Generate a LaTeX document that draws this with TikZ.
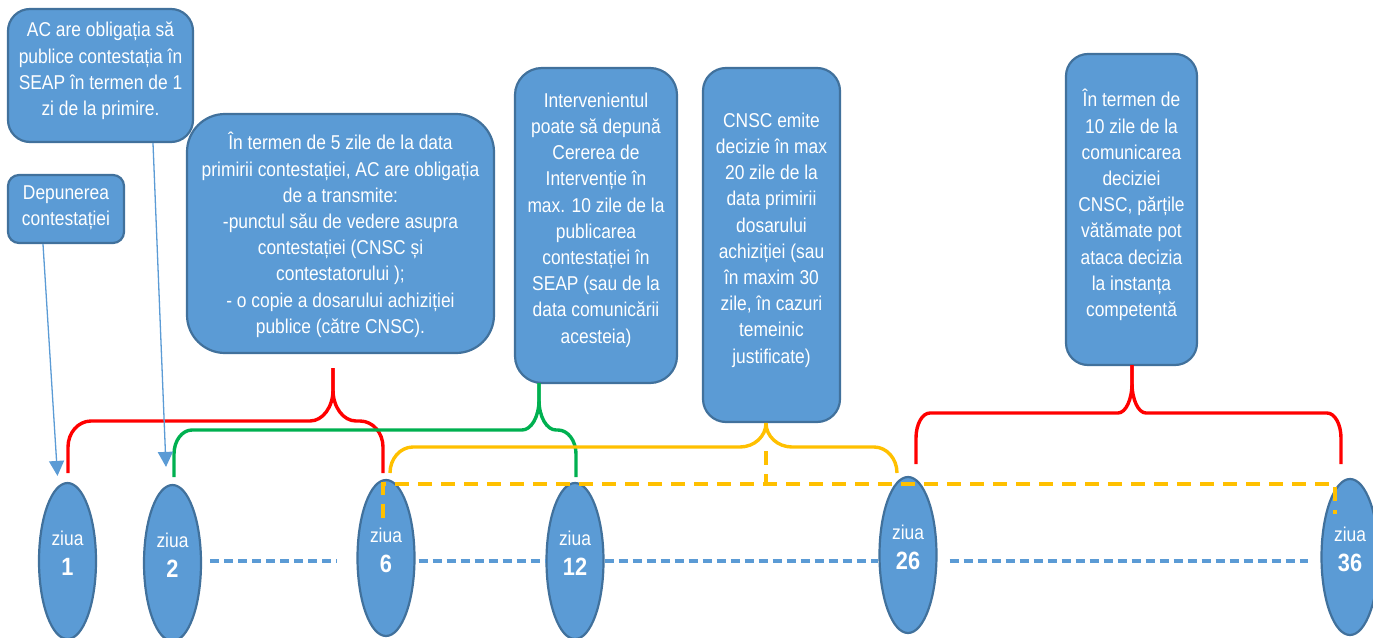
\documentclass[tikz,border=0pt]{standalone}
\usepackage{fontspec}
\setmainfont{Liberation Sans}[FakeStretch=0.87]
\usetikzlibrary{shapes.geometric,arrows.meta}
\definecolor{boxfill}{HTML}{5B9BD5}
\definecolor{boxline}{HTML}{41719C}
\definecolor{bred}{HTML}{FF0000}
\definecolor{bgreen}{HTML}{00B050}
\definecolor{byellow}{HTML}{FFC000}
\newcommand\setbr[4]{\def\brox{#1}\def\broy{#2}\def\brtx{#3}\def\brty{#4}}
\newcommand\bracedraw[7]{%
\pgfmathsetmacro\bLa{#6+\broy}\pgfmathsetmacro\bLb{#6+0.448*\broy}%
\pgfmathsetmacro\bLc{#2+0.448*\brox}\pgfmathsetmacro\bLd{#2+\brox}%
\pgfmathsetmacro\bTa{#4-\brtx}\pgfmathsetmacro\bTb{#4-0.448*\brtx}%
\pgfmathsetmacro\bTc{#6-0.448*\brty}\pgfmathsetmacro\bTd{#6-\brty}%
\pgfmathsetmacro\bTe{#4+0.448*\brtx}\pgfmathsetmacro\bTf{#4+\brtx}%
\pgfmathsetmacro\bRa{#3-\brox}\pgfmathsetmacro\bRb{#3-0.448*\brox}%
\draw[bracestyle,#1] (#2,#5) -- (#2,\bLa) .. controls (#2,\bLb) and (\bLc,#6) .. (\bLd,#6) -- (\bTa,#6) .. controls (\bTb,#6) and (#4,\bTc) .. (#4,\bTd) -- (#4,#7);
\draw[bracestyle,#1] (#4,#7) -- (#4,\bTd) .. controls (#4,\bTc) and (\bTe,#6) .. (\bTf,#6) -- (\bRa,#6) .. controls (\bRb,#6) and (#3,\bLb) .. (#3,\bLa) -- (#3,#5);
}
\tikzset{
  box/.style={draw=boxline, fill=boxfill, line width=2.2pt, inner sep=0pt},
  dayell/.style={ellipse, draw=boxline, fill=boxfill, line width=2.2pt, inner sep=0pt, minimum width=57pt, minimum height=156pt},
  txt/.style={text=white, align=center, inner sep=0pt, font=\fontsize{20}{26.2}\selectfont},
  zt/.style={text=white, inner sep=0pt, font=\fontsize{20}{24}\selectfont},
  zn/.style={text=white, inner sep=0pt, font=\fontsize{25}{30}\selectfont\bfseries},
  bracestyle/.style={line width=3.4pt},
  bluedash/.style={draw=boxfill, line width=3.4pt, dash pattern=on 9pt off 5pt},
  ydash/.style={draw=byellow, line width=3.4pt, dash pattern=on 14pt off 9pt},
  thinarrow/.style={draw=boxfill, line width=1.3pt, -{Triangle[width=15pt,length=15pt]}}
}
\begin{document}
\begin{tikzpicture}[x=1pt,y=-1pt]
\useasboundingbox (0,0) rectangle (1373,637);
% boxes
\node[box, minimum width=185pt, minimum height=133pt, rounded corners=22pt] (bA) at (100.5,75.5) {};
\node[box, minimum width=116pt, minimum height=68pt, rounded corners=11pt] (bB) at (66,209) {};
\node[box, minimum width=307pt, minimum height=239pt, rounded corners=38pt] (bC) at (340.5,233.5) {};
\node[box, minimum width=162pt, minimum height=315pt, rounded corners=27pt] (bD) at (596,225.5) {};
\node[box, minimum width=137pt, minimum height=354pt, rounded corners=23pt] (bE) at (771.5,245) {};
\node[box, minimum width=131pt, minimum height=311pt, rounded corners=22pt] (bF) at (1131.5,209.5) {};
% day ellipses
\node[dayell] (d1) at (67.5,561) {};
\node[dayell] (d2) at (172.5,563) {};
\node[dayell] (d6) at (386,558) {};
\node[dayell] (d12) at (575,561) {};
\node[dayell] (d26) at (908,555) {};
\node[dayell] (d36) at (1350,557) {};
\coordinate (axis) at (0,561);
\coordinate (yaxis) at (0,484);
% blue dashed timeline
\draw[bluedash] ([xshift=8pt]d2.east |- axis) -- ([xshift=-19pt]d6.west |- axis);
\draw[bluedash] ([xshift=3pt]d6.east |- axis) -- (d12.west |- axis);
\draw[bluedash] (d12.east |- axis) -- (d26.west |- axis);
\draw[bluedash] ([xshift=12pt]d26.east |- axis) -- ([xshift=-12pt]d36.west |- axis);
% braces
\setbr{23}{26}{23}{31}\bracedraw{bred}{68}{383}{333}{473}{421}{368}
\setbr{18}{24}{17}{30}\bracedraw{bgreen}{174}{576}{539}{477}{430}{383}
\setbr{23}{26}{26}{24}\bracedraw{byellow}{390}{897}{766}{473}{447}{423}
\setbr{14}{25}{14}{30}\bracedraw{bred}{916}{1341}{1132}{464}{413}{365}
% yellow dashed
\draw[ydash] ([xshift=-3pt,yshift=-39pt]d6.north) -- ([xshift=-3pt]d6.north |- yaxis) -- ([xshift=-15pt]d36.north |- yaxis) -- ([xshift=-15pt,yshift=-36pt]d36.north);
\draw[ydash] ([xshift=-5.5pt,yshift=-28pt]bE.south) -- ([xshift=-5.5pt]bE.south |- yaxis);
% arrows
\draw[thinarrow] ([xshift=-23pt]bB.south) -- ([xshift=-10pt,yshift=6pt]d1.north);
\draw[thinarrow] ([xshift=52.5pt]bA.south) -- ([xshift=-6.5pt,yshift=17pt]d2.north);
% box texts
\node[txt] (tA) at (100.5,71) {AC are obligația să\\publice contestația în\\SEAP în termen de 1\\zi de la primire.};
\node[txt] (tB) at (66,208) {Depunerea\\contestației};
\node[txt] (tC) at (340.5,235) {În termen de 5 zile de la data\\primirii contestației, AC are obligația\\de a transmite:\\-punctul său de vedere asupra\\contestației (CNSC și\\contestatorului );\\- o copie a dosarului achiziției\\publice (către CNSC).};
\node[txt] (tD) at (596,220) {Intervenientul\\poate să depună\\Cererea de\\Intervenție în\\max. 10 zile de la\\publicarea\\contestației în\\SEAP (sau de la\\data comunicării\\acesteia)};
\node[txt] (tE) at (771.5,240) {CNSC emite\\decizie în max\\20 zile de la\\data primirii\\dosarului\\achiziției (sau\\în maxim 30\\zile, în cazuri\\temeinic\\justificate)};
\node[txt] (tF) at (1131.5,205) {În termen de\\10 zile de la\\comunicarea\\deciziei\\CNSC, părțile\\vătămate pot\\ataca decizia\\la instanța\\competentă};
% day labels
\foreach \n in {1,2,6,12,26,36}{
  \node[zt] (z\n) at ([yshift=23pt]d\n.center) {ziua};
  \node[zn] (n\n) at ([yshift=-6pt]d\n.center) {\n};
}
\end{tikzpicture}
\end{document}
